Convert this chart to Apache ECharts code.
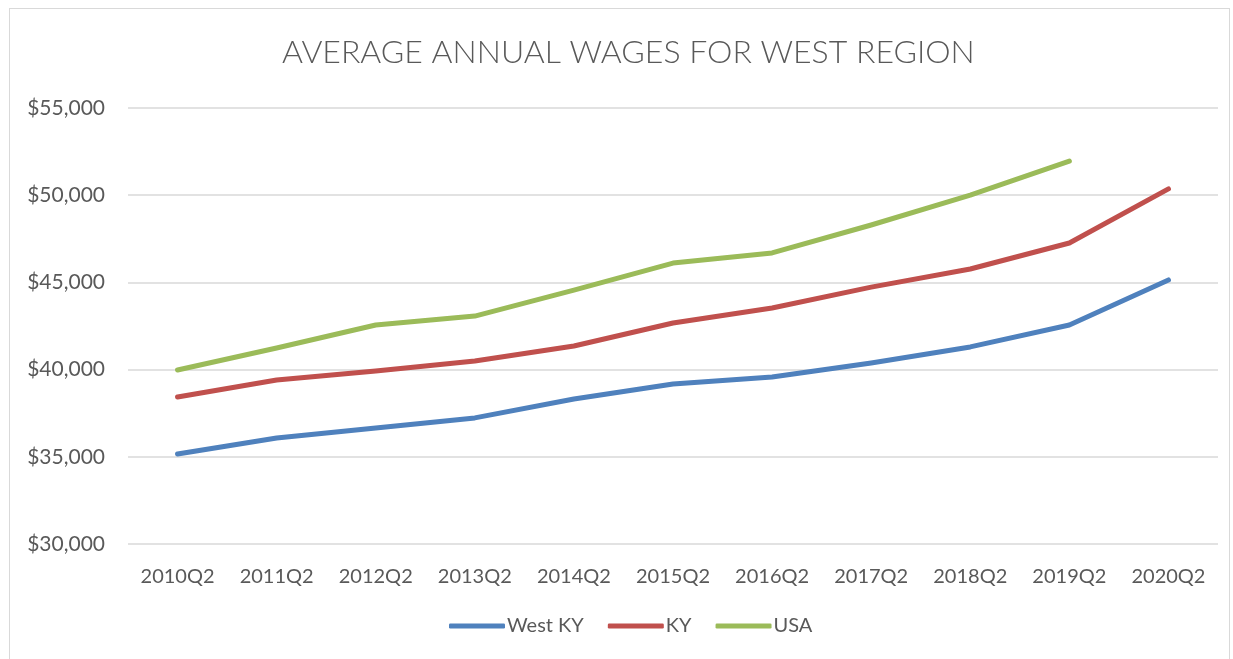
<!DOCTYPE html>
<html>
<head>
<meta charset="utf-8">
<script src="https://cdn.jsdelivr.net/npm/echarts@6/dist/echarts.min.js"></script>
<style>
  html, body { margin: 0; padding: 0; background: #fff; }
  #frame { position: absolute; left: 9px; top: 8px; width: 1219px; height: 700px; border: 1px solid #d9d9d9; }
  #chart { position: absolute; left: 0; top: 0; width: 1233px; height: 659px; }
</style>
</head>
<body>
<div id="frame"></div>
<div id="chart"></div>
<script>
const categories = ['2010Q2', '2011Q2', '2012Q2', '2013Q2', '2014Q2', '2015Q2', '2016Q2', '2017Q2', '2018Q2', '2019Q2', '2020Q2']
const westKY = [35160, 36080, 36650, 37230, 38310, 39170, 39580, 40380, 41300, 42560, 45140]
const ky = [38430, 39400, 39920, 40490, 41350, 42670, 43530, 44730, 45770, 47260, 50360]
const usa = [39980, 41240, 42560, 43070, 44560, 46110, 46690, 48290, 50010, 51960, null]

const font = 'Lato, "Open Sans", sans-serif'
const textColor = '#595959'

const chart = echarts.init(document.getElementById('chart'))

function line(name, data, color) {
  return {
    name,
    type: 'line',
    data,
    symbol: 'none',
    smooth: false,
    lineStyle: { width: 5, color, cap: 'round', join: 'round' },
    itemStyle: { color }
  }
}

chart.setOption({
  backgroundColor: 'transparent',
  animation: false,
  title: {
    text: 'AVERAGE ANNUAL WAGES FOR WEST REGION',
    left: 277,
    top: 32,
    textStyle: { color: textColor, fontFamily: font, fontSize: 32, fontWeight: 300 }
  },
  legend: {
    bottom: 18,
    left: 444,
    itemWidth: 56,
    itemHeight: 5,
    itemGap: 24,
    icon: 'roundRect',
    textStyle: { color: textColor, fontFamily: font, fontSize: 20, padding: [0, 0, 0, -3] }
  },
  grid: { left: 128, right: 15, top: 108, bottom: 115 },
  xAxis: {
    type: 'category',
    data: categories,
    boundaryGap: true,
    axisLine: { show: false },
    axisTick: { show: false },
    axisLabel: { color: textColor, fontFamily: font, fontSize: 20, margin: 23 }
  },
  yAxis: {
    type: 'value',
    min: 30000,
    max: 55000,
    interval: 5000,
    axisLine: { show: false },
    axisTick: { show: false },
    axisLabel: {
      color: textColor,
      fontFamily: font,
      fontSize: 21,
      margin: 23,
      formatter: (v) => '$' + v.toLocaleString('en-US')
    },
    splitLine: { lineStyle: { color: '#d9d9d9', width: 1.5 } }
  },
  series: [
    line('West KY', westKY, '#4F81BD'),
    line('KY', ky, '#C0504D'),
    line('USA', usa, '#9BBB59')
  ]
})
</script>
</body>
</html>
